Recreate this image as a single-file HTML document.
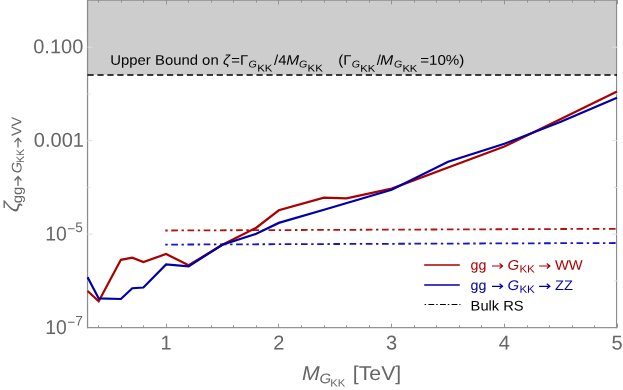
<!DOCTYPE html>
<html><head><meta charset="utf-8">
<style>
html,body{margin:0;padding:0;background:#fff;}
body{width:623px;height:390px;overflow:hidden;}
svg{display:block;will-change:transform;font-family:"Liberation Sans",sans-serif;}
</style></head><body>
<svg width="623" height="390" viewBox="0 0 623 390">
<rect x="0" y="0" width="623" height="390" fill="#fff"/>
<rect x="87.5" y="0" width="529.5" height="74.8" fill="#cdcdcd"/>
<g stroke="#8c8c8c" fill="none">
<line x1="87.55" y1="0" x2="87.55" y2="328.3" stroke-width="1.25"/>
<line x1="616.55" y1="0" x2="616.55" y2="328.3" stroke-width="1.15"/>
<line x1="87" y1="327.7" x2="617.1" y2="327.7" stroke-width="1.3" stroke="#939393"/>
</g>
<g stroke="#8c8c8c" stroke-width="0.9" fill="none">
<line x1="98.50" y1="327.7" x2="98.50" y2="325.3"/>
<line x1="98.50" y1="0" x2="98.50" y2="2.7"/>
<line x1="121.50" y1="327.7" x2="121.50" y2="325.3"/>
<line x1="121.50" y1="0" x2="121.50" y2="2.7"/>
<line x1="143.50" y1="327.7" x2="143.50" y2="325.3"/>
<line x1="143.50" y1="0" x2="143.50" y2="2.7"/>
<line x1="166.50" y1="327.7" x2="166.50" y2="323.7"/>
<line x1="166.50" y1="0" x2="166.50" y2="4.3"/>
<line x1="188.50" y1="327.7" x2="188.50" y2="325.3"/>
<line x1="188.50" y1="0" x2="188.50" y2="2.7"/>
<line x1="211.50" y1="327.7" x2="211.50" y2="325.3"/>
<line x1="211.50" y1="0" x2="211.50" y2="2.7"/>
<line x1="233.50" y1="327.7" x2="233.50" y2="325.3"/>
<line x1="233.50" y1="0" x2="233.50" y2="2.7"/>
<line x1="256.50" y1="327.7" x2="256.50" y2="325.3"/>
<line x1="256.50" y1="0" x2="256.50" y2="2.7"/>
<line x1="278.50" y1="327.7" x2="278.50" y2="323.7"/>
<line x1="278.50" y1="0" x2="278.50" y2="4.3"/>
<line x1="301.50" y1="327.7" x2="301.50" y2="325.3"/>
<line x1="301.50" y1="0" x2="301.50" y2="2.7"/>
<line x1="324.50" y1="327.7" x2="324.50" y2="325.3"/>
<line x1="324.50" y1="0" x2="324.50" y2="2.7"/>
<line x1="346.50" y1="327.7" x2="346.50" y2="325.3"/>
<line x1="346.50" y1="0" x2="346.50" y2="2.7"/>
<line x1="369.50" y1="327.7" x2="369.50" y2="325.3"/>
<line x1="369.50" y1="0" x2="369.50" y2="2.7"/>
<line x1="391.50" y1="327.7" x2="391.50" y2="323.7"/>
<line x1="391.50" y1="0" x2="391.50" y2="4.3"/>
<line x1="414.50" y1="327.7" x2="414.50" y2="325.3"/>
<line x1="414.50" y1="0" x2="414.50" y2="2.7"/>
<line x1="436.50" y1="327.7" x2="436.50" y2="325.3"/>
<line x1="436.50" y1="0" x2="436.50" y2="2.7"/>
<line x1="459.50" y1="327.7" x2="459.50" y2="325.3"/>
<line x1="459.50" y1="0" x2="459.50" y2="2.7"/>
<line x1="481.50" y1="327.7" x2="481.50" y2="325.3"/>
<line x1="481.50" y1="0" x2="481.50" y2="2.7"/>
<line x1="504.50" y1="327.7" x2="504.50" y2="323.7"/>
<line x1="504.50" y1="0" x2="504.50" y2="4.3"/>
<line x1="527.50" y1="327.7" x2="527.50" y2="325.3"/>
<line x1="527.50" y1="0" x2="527.50" y2="2.7"/>
<line x1="549.50" y1="327.7" x2="549.50" y2="325.3"/>
<line x1="549.50" y1="0" x2="549.50" y2="2.7"/>
<line x1="572.50" y1="327.7" x2="572.50" y2="325.3"/>
<line x1="572.50" y1="0" x2="572.50" y2="2.7"/>
<line x1="594.50" y1="327.7" x2="594.50" y2="325.3"/>
<line x1="594.50" y1="0" x2="594.50" y2="2.7"/>
<line x1="617.50" y1="327.7" x2="617.50" y2="323.7"/>
<line x1="617.50" y1="0" x2="617.50" y2="4.3"/>
</g>
<g stroke="#e0e0e0" stroke-width="1" fill="none">
<line x1="87.5" y1="47.15" x2="92.5" y2="47.15"/>
<line x1="617" y1="47.15" x2="612" y2="47.15"/>
<line x1="87.5" y1="93.90" x2="90.5" y2="93.90"/>
<line x1="617" y1="93.90" x2="614" y2="93.90"/>
<line x1="87.5" y1="140.65" x2="92.5" y2="140.65"/>
<line x1="617" y1="140.65" x2="612" y2="140.65"/>
<line x1="87.5" y1="187.40" x2="90.5" y2="187.40"/>
<line x1="617" y1="187.40" x2="614" y2="187.40"/>
<line x1="87.5" y1="234.15" x2="92.5" y2="234.15"/>
<line x1="617" y1="234.15" x2="612" y2="234.15"/>
<line x1="87.5" y1="280.90" x2="90.5" y2="280.90"/>
<line x1="617" y1="280.90" x2="614" y2="280.90"/>
</g>
<line x1="87.5" y1="0.2" x2="617" y2="0.2" stroke="#8c8c8c" stroke-width="1.2"/>
<line x1="165.3" y1="230.5" x2="617" y2="228.8" stroke="#b2120f" stroke-width="1.8" stroke-dasharray="2.4 3.58 6.65 3.58"/>
<line x1="165.3" y1="244.6" x2="617" y2="243" stroke="#1414c8" stroke-width="1.8" stroke-dasharray="2.4 3.58 6.65 3.58"/>
<polyline fill="none" stroke="#aa0000" stroke-width="2.2" points="87.6,291 98.7,301.2 120.9,259.8 132.3,257.7 143.4,262 166.1,254 188.6,265.3 222.4,244.7 256.3,227.7 278.8,210.3 324,197.7 346.5,198.4 391.7,188.6 448.1,167.5 504.4,146.6 560.8,119 617,91.6"/>
<polyline fill="none" stroke="#0000aa" stroke-width="2.2" points="87.6,277.3 98.7,298.4 120.9,299 132.3,288.2 143.4,287.5 166.1,264.4 188.6,266.4 222.4,244.7 256.3,233.8 278.8,222.9 324,209.7 391.7,189.7 448.1,161.8 504.4,143.8 560.8,121.8 617,97.8"/>
<line x1="87.5" y1="75.1" x2="617" y2="75.1" stroke="#000" stroke-width="1.5" stroke-dasharray="6.2 3.74"/>
<text transform="translate(83.30,53.30) rotate(0.04) scale(1.0000,1)" font-size="20px" fill="#666666" text-anchor="end">0.100</text>
<text transform="translate(83.90,146.80) rotate(0.04) scale(1.0000,1)" font-size="20px" fill="#666666" text-anchor="end">0.001</text>
<text transform="translate(66.90,240.50) rotate(0.04) scale(0.9700,1)" font-size="20px" fill="#666666" text-anchor="end">10</text>
<text transform="translate(67.30,233.40) rotate(0.04) scale(0.9800,1)" font-size="14px" fill="#666666">−</text>
<text transform="translate(75.30,231.90) rotate(0.04) scale(0.9800,1)" font-size="14px" fill="#666666">5</text>
<text transform="translate(66.90,334.10) rotate(0.04) scale(0.9700,1)" font-size="20px" fill="#666666" text-anchor="end">10</text>
<text transform="translate(67.30,327.00) rotate(0.04) scale(0.9800,1)" font-size="14px" fill="#666666">−</text>
<text transform="translate(75.30,325.50) rotate(0.04) scale(0.9800,1)" font-size="14px" fill="#666666">7</text>
<text transform="translate(165.94,349.60) rotate(0.04) scale(1.0000,1)" font-size="20px" fill="#666666" text-anchor="middle">1</text>
<text transform="translate(278.71,349.60) rotate(0.04) scale(1.0000,1)" font-size="20px" fill="#666666" text-anchor="middle">2</text>
<text transform="translate(391.48,349.60) rotate(0.04) scale(1.0000,1)" font-size="20px" fill="#666666" text-anchor="middle">3</text>
<text transform="translate(504.25,349.60) rotate(0.04) scale(1.0000,1)" font-size="20px" fill="#666666" text-anchor="middle">4</text>
<text transform="translate(617.02,349.60) rotate(0.04) scale(1.0000,1)" font-size="20px" fill="#666666" text-anchor="middle">5</text>
<text transform="translate(301.90,380.00) rotate(0.04) scale(1.0640,1)" font-size="20px" fill="#666666" font-style="italic">M</text>
<text transform="translate(319.40,383.20) rotate(0.04) scale(1.0640,1)" font-size="14px" fill="#666666" font-style="italic">G</text>
<text transform="translate(330.30,386.40) rotate(0.04) scale(1.0640,1)" font-size="10.5px" fill="#666666">KK</text>
<text transform="translate(352.80,380.00) rotate(0.04) scale(1.0640,1)" font-size="20px" fill="#666666">[TeV]</text>
<g transform="translate(16,210) rotate(-90)">
<text transform="translate(-2.30,2.85) rotate(0.04) scale(1.1900,1.05)" font-size="20px" fill="#666666" font-style="italic">ζ</text>
<text transform="translate(6.80,5.90) rotate(0.04) scale(1.0640,1)" font-size="14px" fill="#666666">gg</text>
<path d="M24.00,2.00 L33.10,2.00 M29.50,-1.40 L33.50,2.00 L29.50,5.40" fill="none" stroke="#666666" stroke-width="1.25" stroke-linejoin="miter" stroke-linecap="butt"/>
<text transform="translate(36.80,5.40) rotate(0.04) scale(1.0400,1)" font-size="14px" fill="#666666" font-style="italic">G</text>
<text transform="translate(47.00,8.00) rotate(0.04) scale(0.9700,1)" font-size="11px" fill="#666666">KK</text>
<path d="M62.60,2.00 L71.50,2.00 M67.90,-1.40 L71.90,2.00 L67.90,5.40" fill="none" stroke="#666666" stroke-width="1.25" stroke-linejoin="miter" stroke-linecap="butt"/>
<text transform="translate(73.90,5.30) rotate(0.04) scale(1.0300,1)" font-size="14px" fill="#666666">VV</text>
</g>
<text transform="translate(110.30,64.80) rotate(0.04) scale(1.0640,1)" font-size="14px" fill="#000">Upper Bound on</text>
<text transform="translate(223.00,64.80) rotate(0.04) scale(1.0640,1)" font-size="14px" fill="#000" font-style="italic">ζ</text>
<text transform="translate(231.20,64.80) rotate(0.04) scale(1.0640,1)" font-size="14px" fill="#000">=Γ</text>
<text transform="translate(248.60,67.40) rotate(0.04) scale(1.0640,1)" font-size="10px" fill="#000" font-style="italic">G</text>
<text transform="translate(257.20,71.50) rotate(0.04) scale(1.1400,1)" font-size="10px" fill="#000">KK</text>
<text transform="translate(274.00,64.80) rotate(0.04) scale(1.0640,1)" font-size="14px" fill="#000">/4</text>
<text transform="translate(286.30,64.80) rotate(0.04) scale(1.1000,1)" font-size="14px" fill="#000" font-style="italic">M</text>
<text transform="translate(299.00,67.40) rotate(0.04) scale(1.0640,1)" font-size="10px" fill="#000" font-style="italic">G</text>
<text transform="translate(307.60,71.50) rotate(0.04) scale(1.1400,1)" font-size="10px" fill="#000">KK</text>
<text transform="translate(338.30,64.80) rotate(0.04) scale(1.0640,1)" font-size="14px" fill="#000">(Γ</text>
<text transform="translate(351.70,67.40) rotate(0.04) scale(1.0640,1)" font-size="10px" fill="#000" font-style="italic">G</text>
<text transform="translate(360.20,71.70) rotate(0.04) scale(1.1200,1)" font-size="10px" fill="#000">KK</text>
<text transform="translate(376.80,64.80) rotate(0.04) scale(1.0640,1)" font-size="14px" fill="#000">/</text>
<text transform="translate(380.00,64.80) rotate(0.04) scale(1.1300,1)" font-size="14px" fill="#000" font-style="italic">M</text>
<text transform="translate(393.90,67.40) rotate(0.04) scale(1.0640,1)" font-size="10px" fill="#000" font-style="italic">G</text>
<text transform="translate(402.40,71.70) rotate(0.04) scale(1.1200,1)" font-size="10px" fill="#000">KK</text>
<text transform="translate(420.20,64.80) rotate(0.04) scale(1.0800,1)" font-size="14px" fill="#000">=10%)</text>
<line x1="424.2" y1="264.9" x2="459.8" y2="264.9" stroke="#aa0000" stroke-width="1.5"/>
<line x1="424.2" y1="285.1" x2="459.8" y2="285.1" stroke="#0000aa" stroke-width="1.5"/>
<line x1="424.6" y1="304.55" x2="460.4" y2="304.55" stroke="#000" stroke-width="1.1" stroke-dasharray="1.5 2.3 5.8 2"/>
<text transform="translate(470.50,269.70) rotate(0.04) scale(1.0200,1)" font-size="14px" fill="#aa0000">gg</text>
<path d="M492.00,266.00 L502.20,266.00 M499.50,263.50 L502.60,266.00 L499.50,268.50" fill="none" stroke="#aa0000" stroke-width="1.2" stroke-linejoin="miter" stroke-linecap="butt"/>
<text transform="translate(507.40,269.70) rotate(0.04) scale(1.0640,1)" font-size="14px" fill="#aa0000" font-style="italic">G</text>
<text transform="translate(519.40,272.40) rotate(0.04) scale(1.1000,1)" font-size="10.5px" fill="#aa0000">KK</text>
<path d="M539.10,266.00 L549.50,266.00 M546.80,263.50 L549.90,266.00 L546.80,268.50" fill="none" stroke="#aa0000" stroke-width="1.2" stroke-linejoin="miter" stroke-linecap="butt"/>
<text transform="translate(555.00,269.70) rotate(0.04) scale(1.0500,1)" font-size="14px" fill="#aa0000">WW</text>
<text transform="translate(470.50,290.00) rotate(0.04) scale(1.0200,1)" font-size="14px" fill="#0000aa">gg</text>
<path d="M492.00,286.30 L502.20,286.30 M499.50,283.80 L502.60,286.30 L499.50,288.80" fill="none" stroke="#0000aa" stroke-width="1.2" stroke-linejoin="miter" stroke-linecap="butt"/>
<text transform="translate(507.40,290.00) rotate(0.04) scale(1.0640,1)" font-size="14px" fill="#0000aa" font-style="italic">G</text>
<text transform="translate(519.40,292.70) rotate(0.04) scale(1.1000,1)" font-size="10.5px" fill="#0000aa">KK</text>
<path d="M539.10,286.30 L549.50,286.30 M546.80,283.80 L549.90,286.30 L546.80,288.80" fill="none" stroke="#0000aa" stroke-width="1.2" stroke-linejoin="miter" stroke-linecap="butt"/>
<text transform="translate(555.00,290.00) rotate(0.04) scale(1.0500,1)" font-size="14px" fill="#0000aa">ZZ</text>
<text transform="translate(470.60,310.40) rotate(0.04) scale(1.0500,1)" font-size="14px" fill="#000">Bulk RS</text>
</svg>
</body></html>
